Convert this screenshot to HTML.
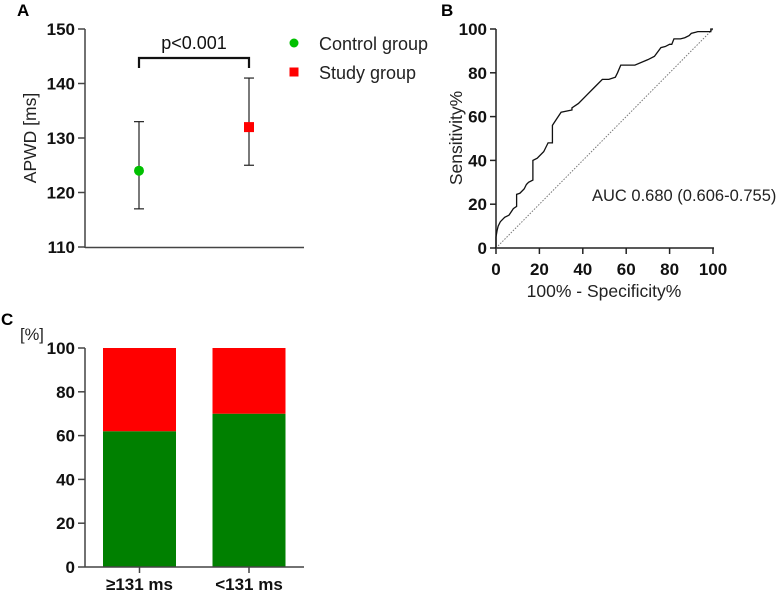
<!DOCTYPE html>
<html><head><meta charset="utf-8"><style>
body{margin:0;background:#fff;}
svg{font-family:"Liberation Sans",Arial,sans-serif;}
.tick{font-weight:bold;font-size:17px;fill:#111;}
</style></head><body>
<svg id="fig" width="778" height="591" xmlns="http://www.w3.org/2000/svg">
<g id="pa"></g>
<g id="pb"></g>
<g id="pc"></g>
</svg>
<script>
// Panel A data
const aGroups = ["Control group","Study group"];
const aMeans = [124, 132];
const aLow = [117, 125];
const aHigh = [133, 141];
const aTicks = [110,120,130,140,150];
// Panel B data
const rocX = [0,0,0.5,1,2,4,6,8,9.5,9.5,11,13,14,15,17,17,19,22,23,24,26,26,28,30,35,35,38,42,45,49,52,55,56,57.5,64,70,73,76,78,80,81,82,85,87,89,90,92,93,99,99,100];
const rocY = [0,5,8,10,12,14,15,18,19,24.5,25,27,29,30,31,40,41,44,46,48,48,56,59,62,63,64,66,70,73,77,77,78,80,83.5,83.5,86,87.5,91.5,92,93,93,95.5,95.5,96,97,98,98.5,98.8,98.8,100,100];
const bTicks = [0,20,40,60,80,100];
// Panel C data
const cCats = ["\u2265131 ms","<131 ms"];
const cGreen = [62, 70];
const cRed = [38, 30];
const cTicks = [0,20,40,60,80,100];

const NS="http://www.w3.org/2000/svg";
function mk(p,t,a,txt){const e=document.createElementNS(NS,t);for(const k in a)e.setAttribute(k,a[k]);if(txt!==undefined)e.textContent=txt;p.appendChild(e);return e;}

// ---- Panel A
const pa=document.getElementById('pa');
const ay=v=>247-(v-110)/40*218;
const ax=i=>[139,249][i];
let e=mk(pa,'text',{x:17,y:16,'font-weight':'bold','font-size':'17'},'A');


e=mk(pa,'line',{x1:85,y1:29,x2:85,y2:248,stroke:'#444','stroke-width':1.5});


e=mk(pa,'line',{x1:85,y1:247.5,x2:304,y2:247.5,stroke:'#444','stroke-width':1.5});


aTicks.forEach(v=>{
 mk(pa,'line',{x1:78,x2:85,y1:ay(v),y2:ay(v),stroke:'#444','stroke-width':1.5});
 e=mk(pa,'text',{x:75,y:ay(v)+6,'text-anchor':'end',class:'tick'},v);
 
 
});
e=mk(pa,'text',{x:36,y:138,'font-size':'17.5','text-anchor':'middle',transform:'rotate(-90 36 138)',fill:'#222'},'APWD [ms]');


const colA=['#00c000','#ff0000'];
aMeans.forEach((m,i)=>{
 const x=ax(i);
 mk(pa,'line',{x1:x,x2:x,y1:ay(aHigh[i]),y2:ay(aLow[i]),stroke:'#222','stroke-width':1.2});
 mk(pa,'line',{x1:x-5,x2:x+5,y1:ay(aHigh[i]),y2:ay(aHigh[i]),stroke:'#222','stroke-width':1.2});
 mk(pa,'line',{x1:x-5,x2:x+5,y1:ay(aLow[i]),y2:ay(aLow[i]),stroke:'#222','stroke-width':1.2});
 if(i===0){e=mk(pa,'circle',{cx:x,cy:ay(m),r:5,fill:colA[i]});}
 else{e=mk(pa,'rect',{x:x-5,y:ay(m)-5,width:10,height:10,fill:colA[i]});}
 
 
});
e=mk(pa,'path',{d:'M139,68 V58 H249 V68',fill:'none',stroke:'#111','stroke-width':2.2});


e=mk(pa,'text',{x:194,y:49,'text-anchor':'middle','font-size':'18',fill:'#111'},'p<0.001');


aGroups.forEach((g,i)=>{
 const y=44+i*29;
 if(i===0) mk(pa,'circle',{cx:294,cy:y-1,r:4.5,fill:colA[i]});
 else mk(pa,'rect',{x:289.5,y:y-5.5,width:9,height:9,fill:colA[i]});
 e=mk(pa,'text',{x:319,y:y+6,'font-size':'18',fill:'#222'},g);
 
 
});

// ---- Panel B
const pb=document.getElementById('pb');
const bx=v=>496+v/100*217;
const by=v=>248-v/100*219;
e=mk(pb,'text',{x:441,y:16,'font-weight':'bold','font-size':'17'},'B');


mk(pb,'line',{x1:496,y1:29,x2:496,y2:248.5,stroke:'#222','stroke-width':1.5});
mk(pb,'line',{x1:495,y1:248,x2:714,y2:248,stroke:'#222','stroke-width':1.5});
bTicks.forEach(v=>{
 mk(pb,'line',{x1:490,x2:496,y1:by(v),y2:by(v),stroke:'#222','stroke-width':1.5});
 mk(pb,'line',{x1:bx(v),x2:bx(v),y1:248,y2:254,stroke:'#222','stroke-width':1.5});
 e=mk(pb,'text',{x:487,y:by(v)+6,'text-anchor':'end',class:'tick'},v);
 
 
 e=mk(pb,'text',{x:bx(v),y:275,'text-anchor':'middle',class:'tick'},v);
 
 
});
e=mk(pb,'line',{x1:bx(0),y1:by(0),x2:bx(100),y2:by(100),stroke:'#777','stroke-width':1,'stroke-dasharray':'1.5,1.5'});


e=mk(pb,'polyline',{points:rocX.map((x,i)=>bx(x)+','+by(rocY[i])).join(' '),fill:'none',stroke:'#111','stroke-width':1.3});


e=mk(pb,'text',{x:592,y:201,'font-size':'16.5',fill:'#222'},'AUC 0.680 (0.606-0.755)');


e=mk(pb,'text',{x:604,y:297,'text-anchor':'middle','font-size':'17.5',fill:'#222'},'100% - Specificity%');


e=mk(pb,'text',{x:462,y:138,'text-anchor':'middle','font-size':'17.5',fill:'#222',transform:'rotate(-90 462 138)'},'Sensitivity%');



// ---- Panel C
const pc=document.getElementById('pc');
const cy=v=>567-v/100*219;
const cx=i=>[139.5,249][i];
e=mk(pc,'text',{x:1,y:325,'font-weight':'bold','font-size':'17'},'C');


e=mk(pc,'text',{x:20,y:340,'font-size':'16.5',fill:'#222'},'[%]');


cCats.forEach((c,i)=>{
 const x=cx(i)-36.5;
 e=mk(pc,'rect',{x:x,y:cy(cGreen[i]),width:73,height:cy(0)-cy(cGreen[i]),fill:'#008000'});
 
 
 e=mk(pc,'rect',{x:x,y:cy(cGreen[i]+cRed[i]),width:73,height:cy(cGreen[i])-cy(cGreen[i]+cRed[i]),fill:'#ff0000'});
 
 
 mk(pc,'line',{x1:cx(i),x2:cx(i),y1:567,y2:573,stroke:'#444','stroke-width':1.5});
 e=mk(pc,'text',{x:cx(i),y:590,'text-anchor':'middle',class:'tick'},c);
 
 
});
mk(pc,'line',{x1:85,y1:348,x2:85,y2:567.5,stroke:'#444','stroke-width':1.5});
mk(pc,'line',{x1:85,y1:567,x2:304,y2:567,stroke:'#444','stroke-width':1.5});
cTicks.forEach(v=>{
 mk(pc,'line',{x1:78,x2:85,y1:cy(v),y2:cy(v),stroke:'#444','stroke-width':1.5});
 e=mk(pc,'text',{x:75,y:cy(v)+6,'text-anchor':'end',class:'tick'},v);
 
 
});
</script>
</body></html>
